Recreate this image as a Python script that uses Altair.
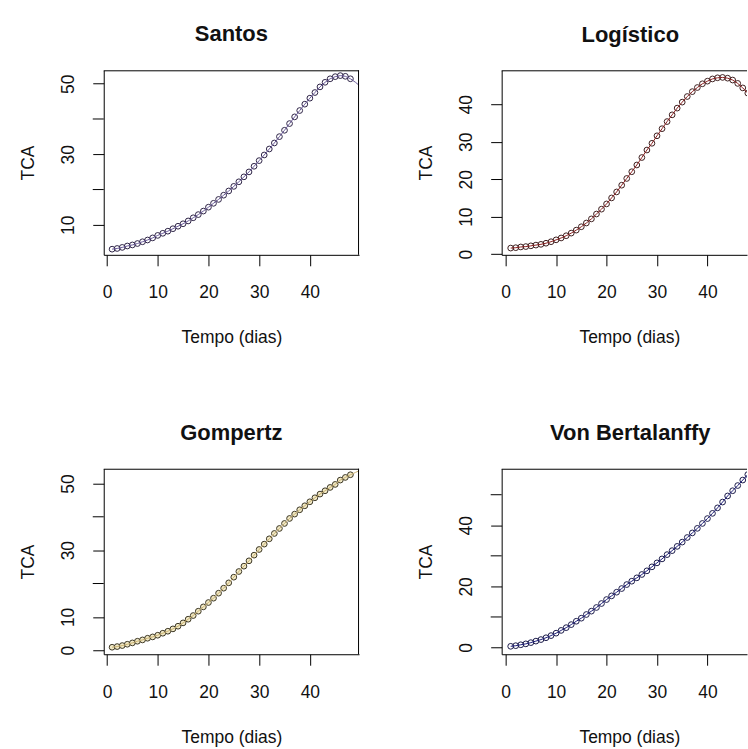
import altair as alt
import pandas as pd

# ---------------- data ----------------
days = [1, 2, 3, 4, 5, 6, 7, 8, 9, 10, 11, 12, 13, 14, 15, 16, 17, 18, 19, 20,
        21, 22, 23, 24, 25, 26, 27, 28, 29, 30, 31, 32, 33, 34, 35, 36, 37, 38,
        39, 40, 41, 42, 43, 44, 45, 46, 47, 48]
tail_days = [49, 50]

santos_tca = [3.1, 3.3, 3.6, 4.0, 4.3, 4.7, 5.2, 5.7, 6.3, 7.0, 7.6, 8.2, 8.9,
              9.6, 10.3, 11.1, 12.0, 12.9, 13.9, 15.0, 16.1, 17.2, 18.4, 19.6,
              20.9, 22.2, 23.6, 25.0, 26.6, 28.2, 29.8, 31.5, 33.2, 35.0, 36.8,
              38.7, 40.6, 42.4, 44.2, 45.9, 47.5, 49.1, 50.4, 51.4, 52.0, 52.3,
              52.1, 51.4]
santos_tail = [50.4, 49.2]

logistico_tca = [1.6, 1.7, 1.9, 2.0, 2.2, 2.4, 2.6, 2.9, 3.3, 3.8, 4.3, 4.9,
                 5.6, 6.4, 7.3, 8.3, 9.4, 10.7, 12.0, 13.4, 15.0, 16.6, 18.4,
                 20.2, 22.0, 23.8, 25.8, 27.8, 29.6, 31.6, 33.5, 35.4, 37.2,
                 39.0, 40.6, 42.1, 43.4, 44.5, 45.5, 46.2, 46.8, 47.1, 47.2,
                 47.0, 46.5, 45.6, 44.4, 43.0]
logistico_tail = [41.4, 39.6]

gompertz_tca = [0.9, 1.1, 1.4, 1.8, 2.2, 2.7, 3.1, 3.6, 4.0, 4.5, 5.1, 5.7,
                6.4, 7.2, 8.2, 9.3, 10.4, 11.7, 13.0, 14.3, 15.6, 17.1, 18.6,
                20.2, 21.9, 23.6, 25.2, 26.8, 28.5, 30.2, 31.8, 33.4, 35.0,
                36.5, 38.0, 39.5, 40.8, 42.1, 43.3, 44.5, 45.7, 46.8, 47.8,
                48.8, 49.7, 51.0, 51.8, 52.6]
gompertz_tail = [53.3, 54.0]

vonb_tca = [0.4, 0.6, 0.9, 1.2, 1.6, 2.1, 2.6, 3.2, 3.9, 4.7, 5.6, 6.5, 7.5,
            8.6, 9.6, 10.8, 11.9, 13.1, 14.4, 15.7, 16.9, 18.1, 19.3, 20.6,
            21.7, 22.8, 23.9, 25.1, 26.4, 27.7, 29.0, 30.4, 31.7, 33.1, 34.5,
            36.0, 37.5, 39.0, 40.6, 42.2, 43.9, 45.7, 47.6, 49.6, 51.3, 53.0,
            54.8, 56.6]
vonb_tail = [58.3, 60.0]

x_ticks = [0, 10, 20, 30, 40]
x_title = "Tempo (dias)"
y_title = "TCA"

santos_yticks = [10, 20, 30, 40, 50]
santos_ylabels = [10, 30, 50]
logistico_yticks = [0, 10, 20, 30, 40]
logistico_ylabels = [0, 10, 20, 30, 40]
gompertz_yticks = [0, 10, 20, 30, 40, 50]
gompertz_ylabels = [0, 10, 30, 50]
vonb_yticks = [0, 10, 20, 30, 40, 50]
vonb_ylabels = [0, 20, 40]

FONT = "Liberation Sans"
TXT = "#111111"


def make_panel(title, tca, tail, yticks, ylabels, xdom, ydom, width, height,
               stroke_c, fill_c, fill_op, line_c, right_edge, title_dx):
    pts = pd.DataFrame({"dia": days, "tca": tca})
    ln = pd.DataFrame({"dia": days + tail_days, "tca": tca + tail})
    minor = pd.DataFrame({"tca": [t for t in yticks if t not in ylabels]})

    x_enc = alt.X(
        "dia:Q",
        scale=alt.Scale(domain=xdom, nice=False, zero=False),
        axis=alt.Axis(
            values=x_ticks, title=x_title, grid=False,
            domain=True, domainColor="black", domainWidth=1,
            ticks=True, tickColor="black", tickSize=11, tickWidth=1,
            labelFont=FONT, labelFontSize=17.5, labelColor=TXT,
            labelPadding=18, labelBaseline="top", labelAlign="center",
            labelAngle=0, labelOverlap=False, labelFlush=False,
            titleFont=FONT, titleFontSize=17.5, titleFontWeight="normal",
            titleColor=TXT, titleX=128, titleY=88,
            titleBaseline="alphabetic", titleAlign="center",
        ),
    )
    y_enc = alt.Y(
        "tca:Q",
        scale=alt.Scale(domain=ydom, nice=False, zero=False),
        axis=alt.Axis(
            values=ylabels, title=y_title, grid=False,
            domain=True, domainColor="black", domainWidth=1,
            ticks=True, tickColor="black", tickSize=11, tickWidth=1,
            labelFont=FONT, labelFontSize=17.5, labelColor=TXT,
            labelAngle=270, labelAlign="center", labelBaseline="middle",
            labelPadding=24, labelOverlap=False, labelFlush=False,
            titleFont=FONT, titleFontSize=17.5, titleFontWeight="normal",
            titleColor=TXT, titleAngle=270, titleX=-75, titleY=height / 2,
            titleAlign="center", titleBaseline="middle",
        ),
    )

    points = alt.Chart(pts).mark_point(
        shape="circle", size=33, stroke=stroke_c, strokeWidth=1,
        fill=fill_c, fillOpacity=fill_op, opacity=1, clip=True,
    ).encode(x=x_enc, y=y_enc)

    line = alt.Chart(ln).mark_line(
        color=line_c, strokeWidth=1, clip=True
    ).encode(x="dia:Q", y="tca:Q")

    layers = [points, line]

    if len(minor):
        minor_ticks = alt.Chart(minor).mark_rule(
            color="black", strokeWidth=1
        ).encode(y=alt.Y("tca:Q"), x=alt.value(-11), x2=alt.value(0))
        layers.append(minor_ticks)

    one = pd.DataFrame({"k": [0]})
    top_rule = alt.Chart(one).mark_rule(color="black", strokeWidth=1).encode(
        x=alt.value(0), x2=alt.value(width), y=alt.value(0.5)
    )
    layers.append(top_rule)
    if right_edge:
        right_rule = alt.Chart(one).mark_rule(color="black", strokeWidth=1).encode(
            x=alt.value(width - 0.5), y=alt.value(0), y2=alt.value(height)
        )
        layers.append(right_rule)

    return alt.layer(*layers).properties(
        width=width, height=height,
        title=alt.TitleParams(
            text=title, font=FONT, fontSize=22, fontWeight="bold", color=TXT,
            anchor="middle", frame="group", baseline="alphabetic", offset=6.5,
            dx=title_dx,
        ),
    )


left_x = [-0.65, 49.7]
right_x = [-0.79, 47.84]

p1 = make_panel("Santos", santos_tca, santos_tail, santos_yticks, santos_ylabels,
                left_x, [1.5, 53.8], 256, 185,
                "#2e2446", "white", 0, "#6a5a9a", True, 0)
p2 = make_panel("Logístico", logistico_tca, logistico_tail, logistico_yticks,
                logistico_ylabels, right_x, [-0.2, 49.1], 246, 185,
                "#3d1f1f", "white", 0, "#8b2020", False, 6)
p3 = make_panel("Gompertz", gompertz_tca, gompertz_tail, gompertz_yticks,
                gompertz_ylabels, left_x, [-1.2, 54.4], 256, 186,
                "#3a3524", "#f1e9c6", 1, "#c8b070", True, 0)
p4 = make_panel("Von Bertalanffy", vonb_tca, vonb_tail, vonb_yticks,
                vonb_ylabels, right_x, [-2.2, 58.5], 246, 186,
                "#1c1c4a", "white", 0, "#1f1f7a", False, 6)

row1 = alt.hconcat(p1, p2, spacing=58)
row2 = alt.hconcat(p3, p4, spacing=58)

chart = alt.vconcat(row1, row2, spacing=75.5).properties(
    padding={"left": 20, "top": 22.5, "right": 0, "bottom": 0},
    background="white",
).configure_view(stroke=None)

chart.save("out.html", embed_options={"renderer": "svg", "actions": False})
